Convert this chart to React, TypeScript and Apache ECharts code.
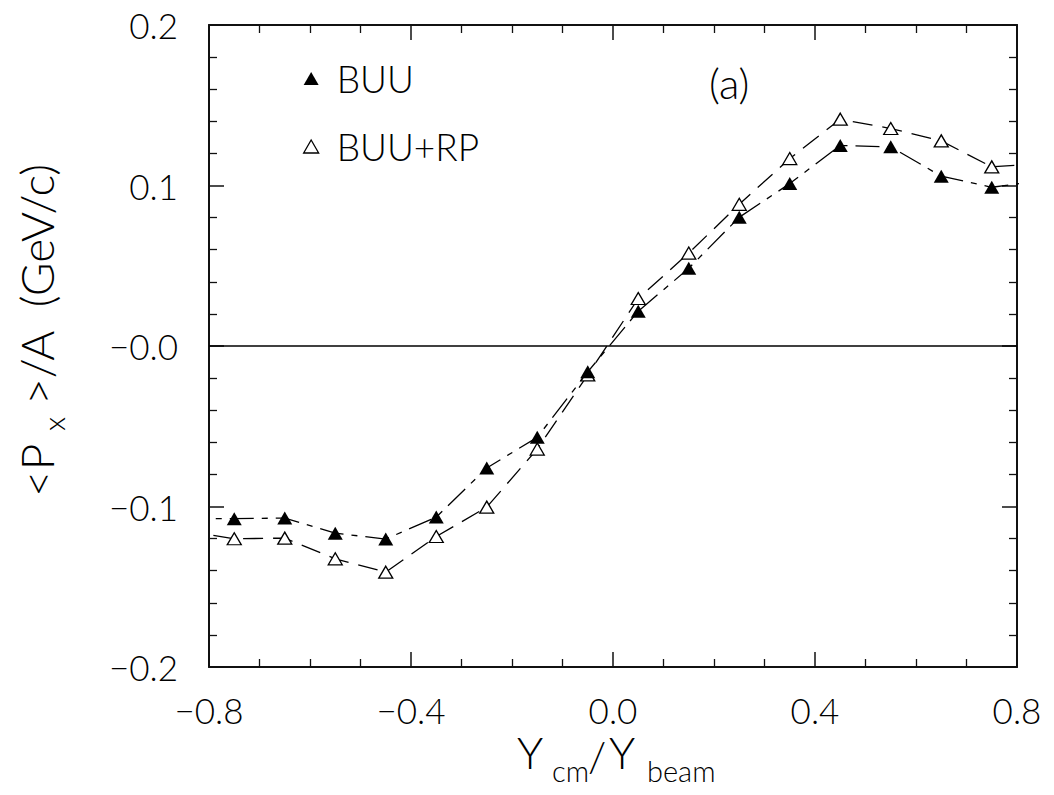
import React, { useEffect, useRef } from "react";
import * as echarts from "echarts";

// Rapidity bins (the outermost two only carry the curve to the frame edge)
const xValues = [-0.85, -0.75, -0.65, -0.55, -0.45, -0.35, -0.25, -0.15, -0.05, 0.05, 0.15, 0.25, 0.35, 0.45, 0.55, 0.65, 0.75, 0.85];
const buuValues = [-0.1076, -0.1076, -0.1072, -0.1166, -0.1203, -0.1066, -0.076, -0.0569, -0.0161, 0.0217, 0.0484, 0.0802, 0.1012, 0.1249, 0.1241, 0.1058, 0.0989, 0.103];
const buuRpValues = [-0.115, -0.1201, -0.1197, -0.1326, -0.1409, -0.1187, -0.1004, -0.0642, -0.018, 0.0296, 0.0579, 0.0883, 0.1168, 0.1413, 0.1355, 0.1278, 0.1116, 0.1136];
const seriesNames = ["BUU", "BUU+RP"];
const xTickLabels = ["\u22120.8", "\u22120.4", "0.0", "0.4", "0.8"];
const yTickLabels = ["\u22120.2", "\u22120.1", "\u22120.0", "0.1", "0.2"];
const panelLabel = "(a)";

const X_MIN = -0.8, X_MAX = 0.8, X_INT = 0.4;
const Y_MIN = -0.2, Y_MAX = 0.2, Y_INT = 0.1;

const FONT = "Lato, 'DejaVu Sans', sans-serif";
const FW = 300;
const INK = "#000";

function buildData(vals: number[]) {
  return xValues.map((x, i) => {
    const inside = x >= X_MIN && x <= X_MAX;
    return inside ? [x, vals[i]] : { value: [x, vals[i]], symbol: "none" };
  });
}

const txt = (text: string, x: number, y: number, size: number, align = "left") => ({
  type: "text",
  x,
  y,
  style: { text, fontSize: size, fontFamily: FONT, fontWeight: FW, fill: INK, align, verticalAlign: "middle" },
});

export default function App() {
  const ref = useRef<HTMLDivElement>(null);
  useEffect(() => {
    if (!ref.current) return;
    const chart = echarts.init(ref.current, undefined, { renderer: "svg" });

    const axisCommon = (pos: string, showLabel: boolean, isX: boolean) => ({
      type: "value",
      position: pos,
      min: isX ? X_MIN : Y_MIN,
      max: isX ? X_MAX : Y_MAX,
      interval: isX ? X_INT : Y_INT,
      axisLine: { show: true, onZero: false, lineStyle: { color: "#111", width: 2 } },
      axisTick: { show: true, inside: true, length: 15, lineStyle: { color: "#111", width: 1.5 } },
      minorTick: { show: true, splitNumber: isX ? 4 : 5, length: 8, lineStyle: { color: "#111", width: 1.3 } },
      splitLine: { show: false },
      minorSplitLine: { show: false },
      axisLabel: showLabel
        ? {
            show: true,
            margin: isX ? 25 : 31,
            fontSize: 35,
            fontFamily: FONT,
            fontWeight: FW,
            color: INK,
            formatter: (v: number) => {
              const arr = isX ? xTickLabels : yTickLabels;
              const mn = isX ? X_MIN : Y_MIN;
              const it = isX ? X_INT : Y_INT;
              return arr[Math.round((v - mn) / it)] ?? "";
            },
          }
        : { show: false },
    });

    const option: any = {
      animation: false,
      backgroundColor: "#fff",
      grid: { left: 209, top: 25, width: 808, height: 642, containLabel: false },
      xAxis: [axisCommon("bottom", true, true), axisCommon("top", false, true)],
      yAxis: [axisCommon("left", true, false), axisCommon("right", false, false)],
      legend: {
        orient: "vertical",
        left: 298,
        top: 55,
        itemWidth: 15,
        itemHeight: 13,
        itemGap: 31,
        selectedMode: false,
        textStyle: { fontSize: 37, lineHeight: 34, fontFamily: FONT, fontWeight: FW, color: INK, padding: [0, 0, 0, 13] },
        data: [
          { name: seriesNames[0], icon: "triangle", itemStyle: { color: INK, borderWidth: 0 } },
          { name: seriesNames[1], icon: "triangle", itemStyle: { color: "#fff", borderColor: INK, borderWidth: 1.3 } },
        ],
      },
      graphic: [
        txt(panelLabel, 709, 83, 42),
        // x axis title  Y_cm / Y_beam
        txt("Y", 517, 752, 44),
        txt("cm", 552, 770, 29),
        txt("/", 588, 756, 42),
        txt("Y", 609, 752, 44),
        txt("beam", 647, 770, 29),
        // y axis title <P_x>/A (GeV/c), rotated
        {
          type: "group",
          x: 36,
          y: 497,
          rotation: Math.PI / 2,
          children: [
            txt("<P", 0, 0, 46),
            txt("x", 66, 17, 30),
            txt(">/A  (GeV/c)", 92, 0, 46),
          ],
        },
      ],
      series: [
        {
          name: seriesNames[1],
          type: "line",
          xAxisIndex: 0,
          yAxisIndex: 0,
          data: buildData(buuRpValues),
          symbol: "triangle",
          symbolSize: [14, 12],
          showAllSymbol: true,
          clip: true,
          z: 2,
          lineStyle: { color: INK, width: 1.3, type: [20, 10] },
          itemStyle: { color: "#fff", borderColor: INK, borderWidth: 1.3 },
        },
        {
          name: seriesNames[0],
          type: "line",
          xAxisIndex: 0,
          yAxisIndex: 0,
          data: buildData(buuValues),
          symbol: "triangle",
          symbolSize: [15, 13],
          showAllSymbol: true,
          clip: true,
          z: 3,
          lineStyle: { color: INK, width: 1.3, type: [24, 8, 6, 8] },
          itemStyle: { color: INK, borderWidth: 0 },
          markLine: {
            silent: true,
            symbol: "none",
            label: { show: false },
            lineStyle: { color: INK, width: 1.5, type: "solid" },
            data: [{ yAxis: 0 }],
          },
        },
      ],
    };
    chart.setOption(option);
    return () => chart.dispose();
  }, []);
  return <div ref={ref} style={{ position: "fixed", left: 0, top: 0, width: 1054, height: 795, background: "#fff" }} />;
}
